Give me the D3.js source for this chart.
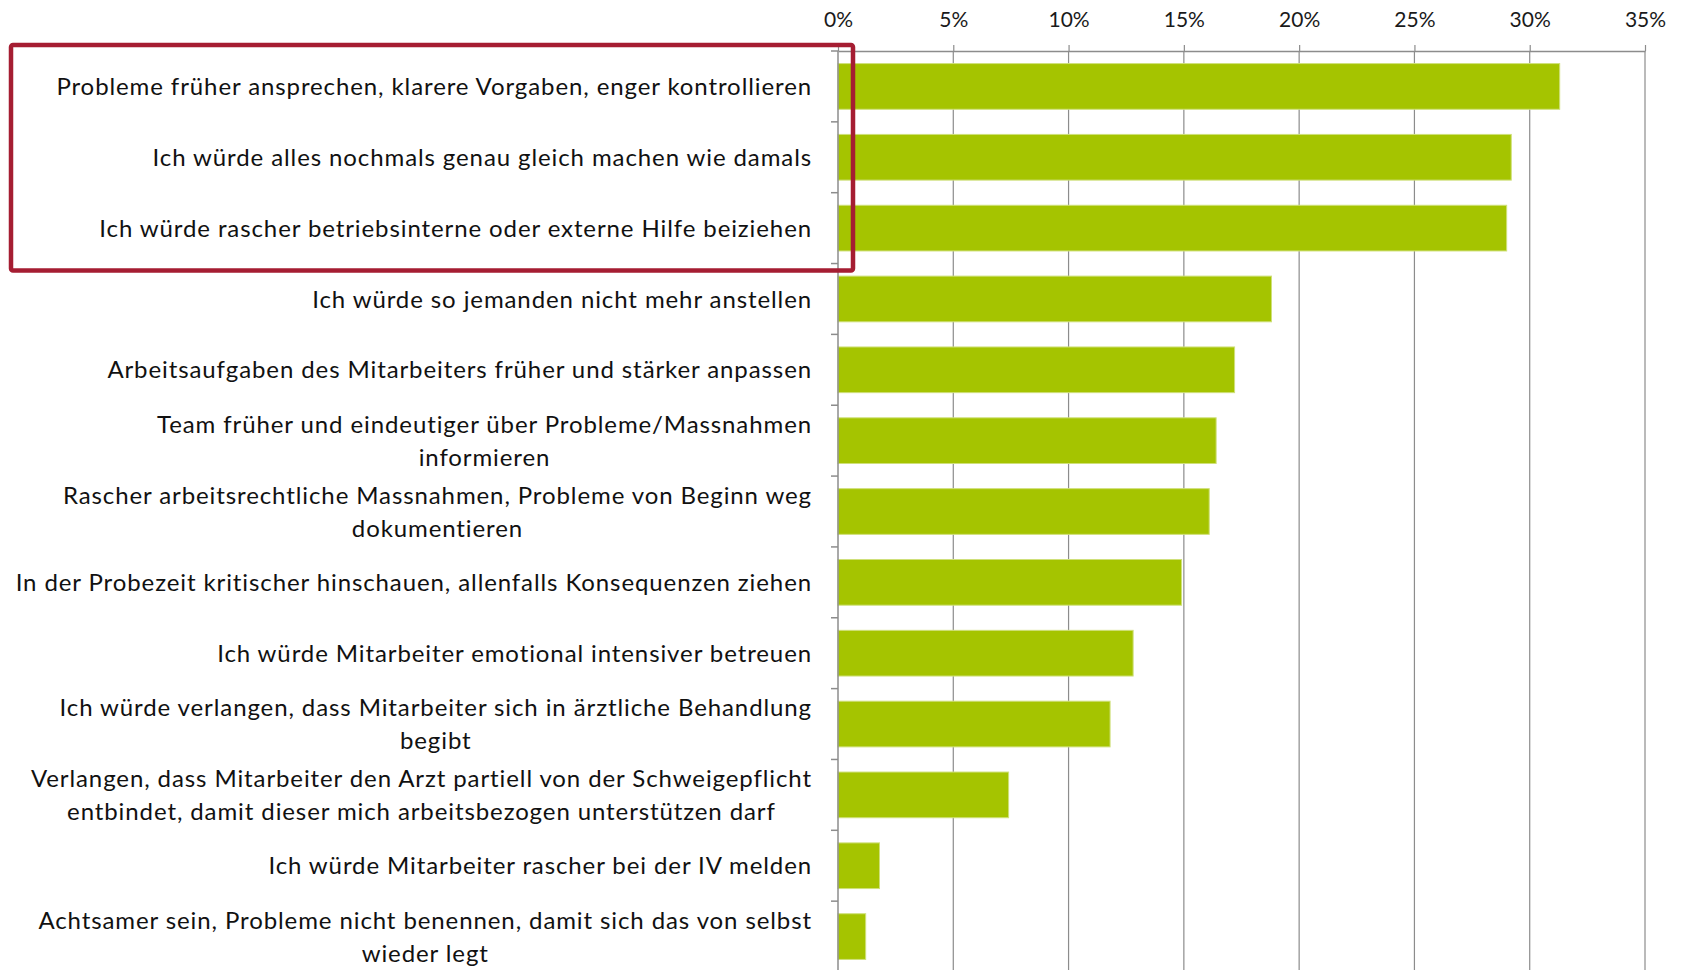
<!DOCTYPE html>
<html>
<head>
<meta charset="utf-8">
<script src="https://cdn.jsdelivr.net/npm/d3@7"></script>
<style>
  body { margin: 0; background: #fff; }
  svg { display: block; }
</style>
</head>
<body>
<div id="chart-area"></div>
<script>
const categories = [
    "Probleme früher ansprechen, klarere Vorgaben, enger kontrollieren",
    "Ich würde alles nochmals genau gleich machen wie damals",
    "Ich würde rascher betriebsinterne oder externe Hilfe beiziehen",
    "Ich würde so jemanden nicht mehr anstellen",
    "Arbeitsaufgaben des Mitarbeiters früher und stärker anpassen",
    "Team früher und eindeutiger über Probleme/Massnahmen\ninformieren",
    "Rascher arbeitsrechtliche Massnahmen, Probleme von Beginn weg\ndokumentieren",
    "In der Probezeit kritischer hinschauen, allenfalls Konsequenzen ziehen",
    "Ich würde Mitarbeiter emotional intensiver betreuen",
    "Ich würde verlangen, dass Mitarbeiter sich in ärztliche Behandlung\nbegibt",
    "Verlangen, dass Mitarbeiter den Arzt partiell von der Schweigepflicht\nentbindet, damit dieser mich arbeitsbezogen unterstützen darf",
    "Ich würde Mitarbeiter rascher bei der IV melden",
    "Achtsamer sein, Probleme nicht benennen, damit sich das von selbst\nwieder legt"
];
const values = [31.3, 29.2, 29.0, 18.8, 17.2, 16.4, 16.1, 14.9, 12.8, 11.8, 7.4, 1.8, 1.2];
const xTicks = [0, 5, 10, 15, 20, 25, 30, 35];
const highlighted = 3; // first three answers are boxed

const data = categories.map((c, i) => ({ label: c, value: values[i] }));

const width = 1681;
const height = 970;
const margin = { left: 838, right: 36, top: 51, bottom: -2 };

const svg = d3.select('#chart-area')
    .append('svg')
    .attr('width', width)
    .attr('height', height);

const x = d3.scaleLinear()
    .domain([0, 35])
    .range([margin.left, width - margin.right]);

const y = d3.scaleBand()
    .domain(categories)
    .range([margin.top, height - margin.bottom])
    .paddingInner(0.355)
    .paddingOuter(0.1775);

const gridColor = '#8c8c8c';
const gap = (y.step() - y.bandwidth()) / 2;

// vertical gridlines
svg.append('g')
    .selectAll('line')
    .data(xTicks.slice(1))
    .enter()
    .append('line')
    .attr('x1', d => x(d))
    .attr('x2', d => x(d))
    .attr('y1', margin.top)
    .attr('y2', height)
    .attr('stroke', gridColor)
    .attr('stroke-width', 1.2);

// bars
svg.append('g')
    .selectAll('rect')
    .data(data)
    .enter()
    .append('rect')
    .attr('x', x(0))
    .attr('y', d => y(d.label))
    .attr('width', d => x(d.value) - x(0))
    .attr('height', y.bandwidth())
    .attr('fill', '#a5c400')
    .attr('stroke', '#cfe07a')
    .attr('stroke-width', 1);

// top axis
const xAxis = d3.axisTop(x)
    .tickValues(xTicks)
    .tickFormat(d => d + '%')
    .tickSize(6)
    .tickSizeOuter(0)
    .tickPadding(18);

const gx = svg.append('g')
    .attr('transform', `translate(0, ${margin.top})`)
    .call(xAxis);

gx.select('.domain').attr('stroke', gridColor).attr('stroke-width', 1.5);
gx.selectAll('.tick line').attr('stroke', gridColor).attr('stroke-width', 1.2);
gx.selectAll('.tick text')
    .attr('font-family', 'Lato, "Noto Sans", sans-serif')
    .attr('font-size', '21px')
    .attr('fill', '#1a1a1a');

// left axis line and category boundary ticks
const boundaries = categories.map(c => y(c) - gap).concat([y(categories[categories.length - 1]) + y.bandwidth() + gap]);
svg.append('line')
    .attr('x1', x(0))
    .attr('x2', x(0))
    .attr('y1', margin.top)
    .attr('y2', height)
    .attr('stroke', gridColor)
    .attr('stroke-width', 1.5);

svg.append('g')
    .selectAll('line')
    .data(boundaries)
    .enter()
    .append('line')
    .attr('x1', x(0) - 7)
    .attr('x2', x(0))
    .attr('y1', d => d)
    .attr('y2', d => d)
    .attr('stroke', gridColor)
    .attr('stroke-width', 1.5);

// category labels (multi-line ones centred inside a right-aligned block)
const labelRight = x(0) - 26;
const lineHeight = 33;
const labels = svg.append('g')
    .attr('font-family', 'Lato, "Noto Sans", sans-serif')
    .attr('font-size', '24px')
    .attr('letter-spacing', '0.9px')
    .attr('fill', '#111');

data.forEach(d => {
    const lines = d.label.split('\n');
    const cy = y(d.label) + y.bandwidth() / 2;
    const t = labels.append('text')
        .attr('text-anchor', 'middle');
    lines.forEach((ln, i) => {
        t.append('tspan')
            .attr('y', cy + (i - (lines.length - 1) / 2) * lineHeight)
            .attr('dy', '0.36em')
            .text(ln);
    });
    const w = d3.max(t.selectAll('tspan').nodes(), n => n.getComputedTextLength());
    t.selectAll('tspan').attr('x', labelRight - w / 2);
});

// red highlight box round the first answers
const boxTop = y(categories[0]) - gap - 6;
const boxBottom = y(categories[highlighted - 1]) + y.bandwidth() + gap + 7;
svg.append('rect')
    .attr('x', 11)
    .attr('y', boxTop)
    .attr('width', x(0) + 15 - 11)
    .attr('height', boxBottom - boxTop)
    .attr('rx', 2)
    .attr('fill', 'none')
    .attr('stroke', '#a51d32')
    .attr('stroke-width', 4.5);
</script>
</body>
</html>
